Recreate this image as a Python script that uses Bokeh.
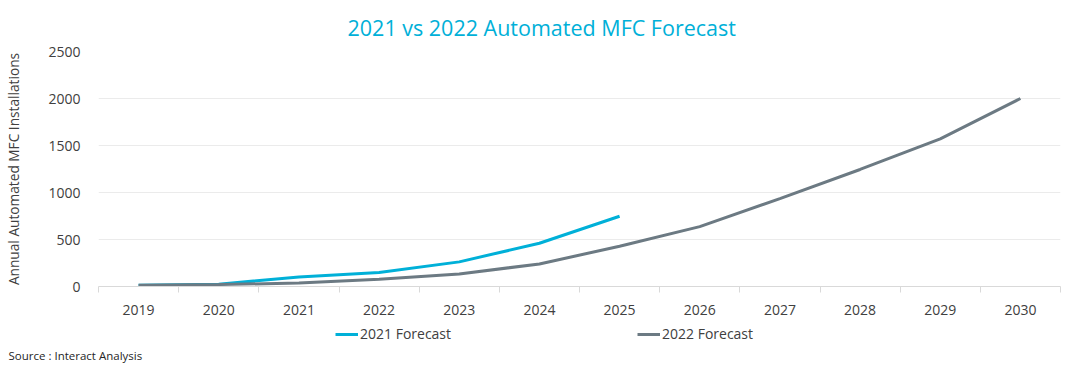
from bokeh.plotting import figure
from bokeh.layouts import column
from bokeh.models import FixedTicker, Legend, LegendItem, Title
from bokeh.embed import file_html
from bokeh.resources import INLINE

years = [2019, 2020, 2021, 2022, 2023, 2024, 2025, 2026, 2027, 2028, 2029, 2030]
years_2021 = [2019, 2020, 2021, 2022, 2023, 2024, 2025]
forecast_2021 = [12, 25, 100, 150, 262, 460, 747]
forecast_2022 = [12, 20, 38, 78, 133, 240, 428, 637, 935, 1245, 1570, 2000]
y_ticks = [0, 500, 1000, 1500, 2000, 2500]

FONT = "Open Sans"
TXT = "#404040"
BLUE = "#00B0D8"
GRAY = "#6C7A83"

# ---- main chart ----
p = figure(width=1064, height=324, output_backend="svg", toolbar_location=None,
           x_range=(2018.5, 2030.5), y_range=(0, 2500),
           min_border_left=98, min_border_right=4, min_border_top=47, min_border_bottom=38)
p.outline_line_color = None
p.title.visible = False

p.line(years_2021, forecast_2021, line_color=BLUE, line_width=3)
p.line(years, forecast_2022, line_color=GRAY, line_width=3)

xa = p.xaxis[0]
xa.ticker = FixedTicker(ticks=years, minor_ticks=[y - 0.5 for y in years] + [2030.5])
xa.major_tick_line_color = None
xa.minor_tick_line_color = "#D9D9D9"
xa.minor_tick_out = 6
xa.minor_tick_in = 0
xa.axis_line_color = "#D9D9D9"
xa.major_label_text_font = FONT
xa.major_label_text_font_size = "14px"
xa.major_label_text_color = TXT
xa.major_label_standoff = 12

ya = p.yaxis[0]
ya.ticker = FixedTicker(ticks=y_ticks)
ya.axis_line_color = None
ya.major_tick_line_color = None
ya.minor_tick_line_color = None
ya.major_label_text_font = FONT
ya.major_label_text_font_size = "14px"
ya.major_label_text_color = TXT
ya.major_label_standoff = 12
ya.axis_label = "Annual Automated MFC Installations"
ya.axis_label_text_font = FONT
ya.axis_label_text_font_size = "13.7px"
ya.axis_label_text_font_style = "normal"
ya.axis_label_text_color = TXT
ya.axis_label_standoff = 22

p.xgrid.grid_line_color = None
p.ygrid.grid_line_color = "#EBEBEB"
p.ygrid.ticker = FixedTicker(ticks=y_ticks)

title = Title(text="2021 vs 2022 Automated MFC Forecast", align="left",
              text_font=FONT, text_font_size="21.5px", text_font_style="normal",
              text_color=BLUE, offset=249, standoff=20)
p.add_layout(title, "above")

# ---- legend / source strip ----
q = figure(width=1064, height=40, output_backend="svg", toolbar_location=None,
           x_range=(2018.5, 2030.5), y_range=(-2000, -1000),
           x_axis_location=None, y_axis_location=None,
           min_border_left=0, min_border_right=0, min_border_top=0, min_border_bottom=0)
q.outline_line_color = None
q.xgrid.grid_line_color = None
q.ygrid.grid_line_color = None
q.title.visible = False

l1 = q.line(years_2021, forecast_2021, line_color=BLUE, line_width=3)
l2 = q.line(years, forecast_2022, line_color=GRAY, line_width=3)

legend = Legend(items=[LegendItem(label="2021 Forecast", renderers=[l1]),
                       LegendItem(label="2022 Forecast", renderers=[l2])],
                orientation="horizontal", location=(237, 0),
                spacing=127, padding=0, margin=0, label_standoff=2,
                glyph_width=23, glyph_height=16, label_height=16, label_width=150,
                label_text_font=FONT, label_text_font_size="14px",
                label_text_color=TXT, background_fill_alpha=0,
                border_line_color=None)
q.add_layout(legend, "center")

src = Title(text="Source : Interact Analysis", align="left", offset=-90,
            text_font=FONT, text_font_size="11.5px", text_font_style="normal",
            text_color="#262626", standoff=4)
q.add_layout(src, "below")

open("out.html", "w").write(file_html(column(p, q), INLINE))
